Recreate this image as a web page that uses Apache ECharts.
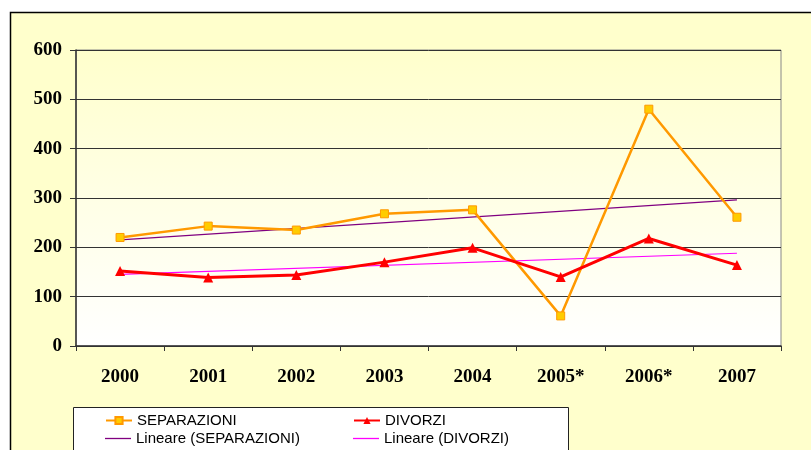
<!DOCTYPE html>
<html>
<head>
<meta charset="utf-8">
<script src="https://cdn.jsdelivr.net/npm/echarts@6/dist/echarts.min.js"></script>
<style>
  html, body { margin: 0; padding: 0; background: #fff; }
  #chart { width: 811px; height: 450px; }
</style>
</head>
<body>
<div id="chart"></div>
<script>
const years = ['2000', '2001', '2002', '2003', '2004', '2005*', '2006*', '2007'];
const separazioni = [220, 243, 235, 268, 276, 61, 480, 261];
const divorzi = [152, 139, 144, 170, 199, 140, 218, 164];
// trend lines, read at first and last year
const trendSep = [215, 296];
const trendDiv = [145, 188];
const yTicks = [0, 100, 200, 300, 400, 500, 600];

const chart = echarts.init(document.getElementById('chart'));

const legendText = { fontFamily: 'Liberation Sans, Arial, sans-serif', fontSize: 15, color: '#000' };
function legendAt(name, left, top, plain) {
	return {
		data: plain ? [{ name: name, icon: 'rect' }] : [name],
		left: left, top: top, orient: 'horizontal',
		itemWidth: 26, itemHeight: plain ? 1.3 : 9, itemGap: 0, padding: 0,
		textStyle: legendText, selectedMode: false
	};
}

chart.setOption({
	backgroundColor: '#ffffff',
	animation: false,
	graphic: [
		{ type: 'rect', z: -10, shape: { x: 10.5, y: 12.5, width: 900, height: 500 },
		  style: { fill: '#FFFFCC', stroke: '#000', lineWidth: 1.5 } },
		{ type: 'rect', z: 1, shape: { x: 73.5, y: 407.5, width: 495, height: 60 },
		  style: { fill: '#fff', stroke: '#222', lineWidth: 1 } }
	],
	grid: {
		left: 76, right: 30, top: 50, bottom: 104,
		show: true, borderColor: '#888', borderWidth: 1,
		backgroundColor: new echarts.graphic.LinearGradient(0, 0, 0, 1, [
			{ offset: 0, color: '#FFFFCC' },
			{ offset: 1, color: '#FFFFFF' }
		])
	},
	legend: [
		legendAt('SEPARAZIONI', 105, 413),
		legendAt('DIVORZI', 353, 413),
		legendAt('Lineare (SEPARAZIONI)', 105, 431, true),
		legendAt('Lineare (DIVORZI)', 353, 431, true)
	],
	xAxis: {
		type: 'category', data: years, boundaryGap: true,
		axisLine: { show: true, lineStyle: { color: '#333', width: 1.5 } },
		axisTick: { show: true, length: 5, lineStyle: { color: '#333' } },
		axisLabel: { margin: 22, color: '#000', fontFamily: 'Liberation Serif, Times New Roman, serif',
			fontWeight: 'bold', fontSize: 19 }
	},
	yAxis: {
		type: 'value', min: 0, max: 600, interval: 100,
		axisLine: { show: true, lineStyle: { color: '#333', width: 1.5 } },
		axisTick: { show: true, length: 6, lineStyle: { color: '#333' } },
		splitLine: { show: true, lineStyle: { color: '#333', width: 1 } },
		axisLabel: { margin: 14, color: '#000', fontFamily: 'Liberation Serif, Times New Roman, serif',
			fontWeight: 'bold', fontSize: 19,
			formatter: v => yTicks.includes(v) ? String(v) : '' }
	},
	series: [
		{ name: 'Lineare (SEPARAZIONI)', type: 'line', symbol: 'none', z: 2,
		  data: [[years[0], trendSep[0]], [years[years.length - 1], trendSep[1]]],
		  lineStyle: { color: '#800080', width: 1.2 }, itemStyle: { color: '#800080' } },
		{ name: 'Lineare (DIVORZI)', type: 'line', symbol: 'none', z: 2,
		  data: [[years[0], trendDiv[0]], [years[years.length - 1], trendDiv[1]]],
		  lineStyle: { color: '#FF00FF', width: 1.2 }, itemStyle: { color: '#FF00FF' } },
		{ name: 'SEPARAZIONI', type: 'line', data: separazioni, z: 3,
		  symbol: 'rect', symbolSize: 8, showAllSymbol: true,
		  lineStyle: { color: '#FF9900', width: 2.5 },
		  itemStyle: { color: '#FFCC00', borderColor: '#FF9900', borderWidth: 1 } },
		{ name: 'DIVORZI', type: 'line', data: divorzi, z: 4,
		  symbol: 'triangle', symbolSize: 10, showAllSymbol: true,
		  lineStyle: { color: '#FF0000', width: 3 },
		  itemStyle: { color: '#FF0000', borderColor: '#FF0000', borderWidth: 0 } }
	]
});
</script>
</body>
</html>
